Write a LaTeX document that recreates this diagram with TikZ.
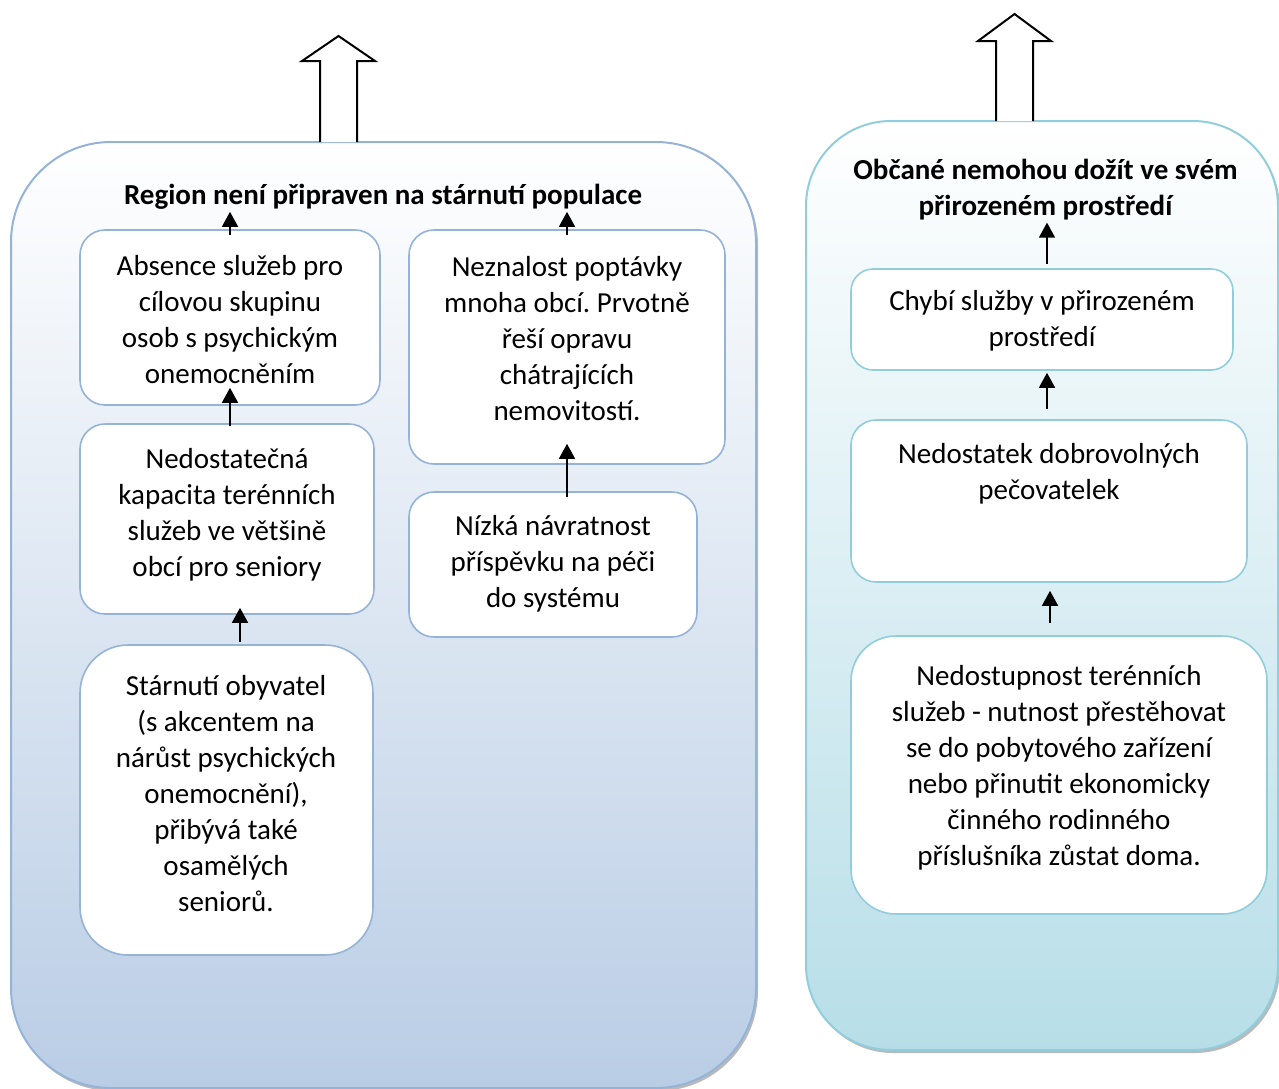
\documentclass[tikz,border=0pt]{standalone}
\usepackage{fontspec}
\setmainfont{Carlito}
\usetikzlibrary{arrows.meta,shadows}
\definecolor{lblue}{HTML}{95B3D7}
\definecolor{lbot}{HTML}{B9CDE5}
\definecolor{tblue}{HTML}{92CDDC}
\definecolor{tbot}{HTML}{B7DEE8}
\tikzset{
  bigbox/.style={rectangle, rounded corners=#1, line width=2pt, inner sep=0pt,
    general shadow={shadow xshift=2pt, shadow yshift=-3pt, fill=gray!55}},
  innerbox/.style={rectangle, rounded corners=#1, line width=1.6pt, fill=white, inner sep=0pt},
  txt/.style={align=center, inner sep=0pt, font=\fontsize{29}{36}\selectfont},
  ttl/.style={align=center, inner sep=0pt, font=\fontsize{29}{36}\selectfont\bfseries},
  arr/.style={line width=1.6pt, -{Triangle[width=16pt,length=15pt]}},
  blockarrow/.style={line width=2pt, fill=white, line join=miter},
}
\frenchspacing
\begin{document}
\begin{tikzpicture}[x=1pt,y=-1pt]
\useasboundingbox (0,0) rectangle (1279,1088);
% big containers
\node[bigbox=100, draw=lblue, top color=white, bottom color=lbot,
      minimum width=745pt, minimum height=946pt] (L) at (383.5,615) {};
\node[bigbox=85, draw=tblue, top color=white, bottom color=tbot,
      minimum width=472pt, minimum height=929pt] (R) at (1042,585.5) {};
% block arrows
\draw[blockarrow] (320,142) -- (320,61) -- (302,61) -- (338.5,36) -- (375,61) -- (357,61) -- (357,142);
\draw[blockarrow] (996,121) -- (996,41) -- (978,41) -- (1014.5,14) -- (1051,41) -- (1033,41) -- (1033,121);
% titles
\node[ttl] (t1) at (383,197) {Region není připraven na stárnutí populace};
\node[ttl] (t2) at (1045.5,190) {Občané nemohou dožít ve svém\\přirozeném prostředí};
% left column
\node[innerbox=25, draw=lblue, minimum width=300pt, minimum height=175pt] (A) at (230,317.5) {};
\node[txt] (tA) at (230,320) {Absence služeb pro\\cílovou skupinu\\osob s psychickým\\onemocněním};
\node[innerbox=25, draw=lblue, minimum width=294pt, minimum height=190pt] (B) at (227,519) {};
\node[txt] (tB) at (227,515) {Nedostatečná\\kapacita terénních\\služeb ve většině\\obcí pro seniory};
\node[innerbox=48, draw=lblue, minimum width=293pt, minimum height=310pt] (C) at (226.5,800) {};
\node[txt] (tC) at (226,794) {Stárnutí obyvatel\\(s akcentem na\\nárůst psychických\\onemocnění),\\přibývá také\\osamělých\\seniorů.};
% middle column
\node[innerbox=25, draw=lblue, minimum width=316pt, minimum height=234pt] (D) at (567,347) {};
\node[txt] (tD) at (567,338.5) {Neznalost poptávky\\mnoha obcí. Prvotně\\řeší opravu\\chátrajících\\nemovitostí.};
\node[innerbox=25, draw=lblue, minimum width=288pt, minimum height=145pt] (E) at (553,564.5) {};
\node[txt] (tE) at (553,564) {Nízká návratnost\\příspěvku na péči\\do systému};
% right column
\node[innerbox=22, draw=tblue, minimum width=382pt, minimum height=101pt] (F) at (1042,319.5) {};
\node[txt] (tF) at (1042,321) {Chybí služby v přirozeném\\prostředí};
\node[innerbox=25, draw=tblue, minimum width=396pt, minimum height=162pt] (G) at (1049,501) {};
\node[txt] (tG) at (1049,474) {Nedostatek dobrovolných\\pečovatelek};
\node[innerbox=45, draw=tblue, minimum width=416pt, minimum height=278pt] (H) at (1059,775) {};
\node[txt] (tH) at (1059,768) {Nedostupnost terénních\\služeb - nutnost přestěhovat\\se do pobytového zařízení\\nebo přinutit ekonomicky\\činného rodinného\\příslušníka zůstat doma.};
% connectors
\draw[arr] ([yshift=-6pt]A.north) -- ([yshift=-2pt]A.north |- t1.south);
\draw[arr] ([yshift=-6pt]D.north) -- ([yshift=-2pt]D.north |- t1.south);
\draw[arr] ([yshift=-3pt]B.north -| A.south) -- ([yshift=18pt]A.south);
\draw[arr] ([xshift=13.5pt,yshift=2pt]C.north) -- ([xshift=13.5pt,yshift=7pt]C.north |- B.south);
\draw[arr] ([yshift=-6pt]E.north -| D.south) -- ([yshift=21pt]D.south);
\draw[arr] ([xshift=5pt,yshift=4pt]F.north) -- ([xshift=5pt,yshift=-2pt]F.north |- t2.south);
\draw[arr] ([xshift=-2pt,yshift=10pt]G.north) -- ([xshift=-2pt,yshift=-2pt]G.north |- F.south);
\draw[arr] ([xshift=-9pt,yshift=12pt]H.north) -- ([xshift=-9pt,yshift=-8pt]H.north |- G.south);
\end{tikzpicture}
\end{document}
